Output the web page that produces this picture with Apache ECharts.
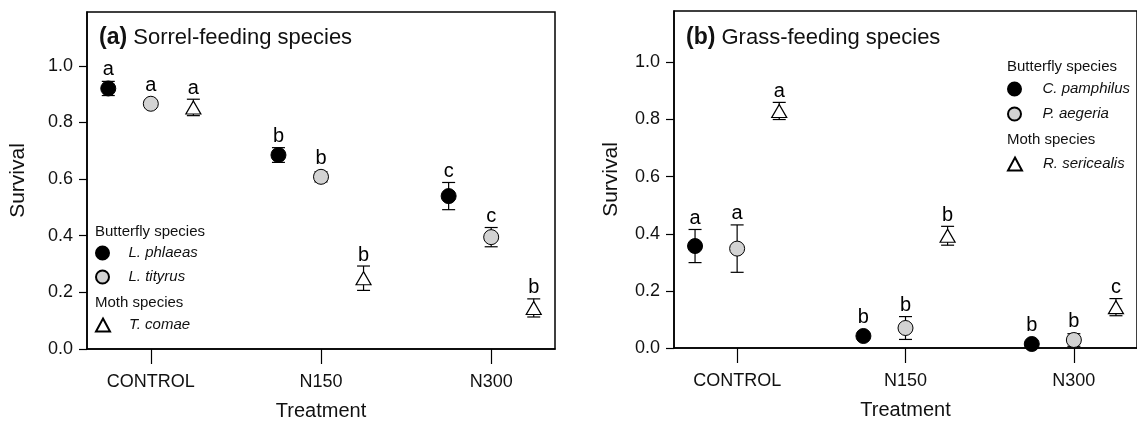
<!DOCTYPE html>
<html>
<head>
<meta charset="utf-8">
<script src="https://cdn.jsdelivr.net/npm/echarts@6/dist/echarts.min.js"></script>
<style>
  html, body { margin: 0; padding: 0; background: #fff; }
  #chart { width: 1137px; height: 428px; }
</style>
</head>
<body>
<div id="chart"></div>
<script>
// treatments on the x axis and the offset of each species inside a group
const treatments = ['CONTROL', 'N150', 'N300'];
const offsets = [-0.25, 0, 0.25];
const yTicks = [0, 0.2, 0.4, 0.6, 0.8, 1.0];

// (a) sorrel-feeding species: mean survival, error, letters
const phlaeas = [0.92, 0.685, 0.54];
const phlaeasErr = [0.025, 0.026, 0.048];
const phlaeasLet = ['a', 'b', 'c'];
const tityrus = [0.866, 0.608, 0.395];
const tityrusErr = [0.012, 0.018, 0.034];
const tityrusLet = ['a', 'b', 'c'];
const comae = [0.853, 0.25, 0.145];
const comaeErr = [0.029, 0.043, 0.032];
const comaeLet = ['a', 'b', 'b'];

// (b) grass-feeding species
const pamphilus = [0.357, 0.042, 0.014];
const pamphilusErr = [0.058, 0.01, 0.006];
const pamphilusLet = ['a', 'b', 'b'];
const aegeria = [0.348, 0.07, 0.028];
const aegeriaErr = [0.083, 0.04, 0.022];
const aegeriaLet = ['a', 'b', 'b'];
const sericealis = [0.83, 0.393, 0.143];
const sericealisErr = [0.03, 0.033, 0.03];
const sericealisLet = ['a', 'b', 'c'];

const FONT = '"Liberation Sans", Arial, Helvetica, sans-serif';

// marker styles: black dot, grey dot, open triangle
const styles = [
  { symbol: 'circle', size: 15, item: { color: '#000', borderColor: '#000', borderWidth: 1, opacity: 1 }, r: 7.5 },
  { symbol: 'circle', size: 15, item: { color: '#d3d3d3', borderColor: '#000', borderWidth: 1, opacity: 1 }, r: 7.5 },
  { symbol: 'triangle', size: [15, 13], item: { color: '#fff', borderColor: '#000', borderWidth: 1.2, opacity: 1 }, r: 6.5 }
];

function points(name, vals, gi, k) {
  const s = styles[k];
  return {
    type: 'scatter', name: name, xAxisIndex: gi, yAxisIndex: gi, z: 3,
    symbol: s.symbol, symbolSize: s.size, itemStyle: s.item,
    data: vals.map((v, i) => [i + offsets[k], v])
  };
}

// error bars with caps, and the letter above each point
function errors(vals, errs, letters, gi, k) {
  const r = styles[k].r;
  return {
    type: 'custom', xAxisIndex: gi, yAxisIndex: gi, z: 2, silent: true,
    data: vals.map((v, i) => [i + offsets[k], v, errs[i]]),
    renderItem: function (params, api) {
      const x = api.value(0), v = api.value(1), e = api.value(2);
      const c = api.coord([x, v]);
      const hi = api.coord([x, v + e]);
      const lo = api.coord([x, v - e]);
      const w = 6.5;
      const ls = { stroke: '#000', lineWidth: 1.2 };
      return {
        type: 'group',
        children: [
          { type: 'line', shape: { x1: c[0], y1: lo[1], x2: c[0], y2: hi[1] }, style: ls },
          { type: 'line', shape: { x1: c[0] - w, y1: hi[1], x2: c[0] + w, y2: hi[1] }, style: ls },
          { type: 'line', shape: { x1: c[0] - w, y1: lo[1], x2: c[0] + w, y2: lo[1] }, style: ls },
          { type: 'text', x: c[0], y: Math.min(hi[1], c[1] - r) - 1,
            style: { text: letters[params.dataIndex], fill: '#000', font: '20px ' + FONT,
                     align: 'center', verticalAlign: 'bottom' } }
        ]
      };
    }
  };
}

function xAxis(gi) {
  return {
    type: 'value', gridIndex: gi, min: -0.375, max: 2.375,
    axisLine: { show: true, onZero: false, lineStyle: { color: '#000', width: 1.5 } },
    axisTick: { show: true, customValues: [0, 1, 2], length: 15, lineStyle: { color: '#000', width: 1.2 } },
    axisLabel: { customValues: [0, 1, 2], formatter: v => treatments[Math.round(v)],
                 fontSize: 18, color: '#111', fontFamily: FONT, margin: 24 },
    splitLine: { show: false },
    name: 'Treatment', nameLocation: 'middle', nameGap: 52,
    nameTextStyle: { fontSize: 20, color: '#111', fontFamily: FONT }
  };
}

function yAxis(gi, max, gap) {
  return {
    type: 'value', gridIndex: gi, min: 0, max: max,
    axisLine: { show: true, onZero: false, lineStyle: { color: '#000', width: 1.5 } },
    axisTick: { show: true, customValues: yTicks, length: 8, lineStyle: { color: '#000', width: 1.2 } },
    axisLabel: { customValues: yTicks, formatter: v => v.toFixed(1),
                 fontSize: 18, color: '#111', fontFamily: FONT, margin: 14 },
    splitLine: { show: false },
    name: 'Survival', nameLocation: 'middle', nameGap: gap,
    nameTextStyle: { fontSize: 21, color: '#111', fontFamily: FONT }
  };
}

function legend(names, left, top, gap, pad) {
  return {
    data: names, orient: 'vertical', left: left, top: top, padding: 0,
    itemWidth: 14, itemHeight: 13, itemGap: gap, selectedMode: false,
    textStyle: { fontSize: 15, fontStyle: 'italic', color: '#111', fontFamily: FONT,
                 lineHeight: 13, padding: [0, 0, 0, pad] }
  };
}

function header(text, left, y) {
  return { type: 'text', left: left, top: y - 8,
           style: { text: text, font: '15px ' + FONT, fill: '#111' } };
}

function title(tag, text, left) {
  return {
    text: '{b|' + tag + '} ' + text, left: left, top: 21,
    textStyle: { fontSize: 22, fontWeight: 'normal', color: '#111', fontFamily: FONT,
                 rich: { b: { fontSize: 23, fontWeight: 'bold', color: '#111', fontFamily: FONT } } }
  };
}

const chart = echarts.init(document.getElementById('chart'));
chart.setOption({
  animation: false,
  backgroundColor: '#fff',
  title: [title('(a)', 'Sorrel-feeding species', 94), title('(b)', 'Grass-feeding species', 681)],
  grid: [
    { left: 87, top: 12, width: 468, height: 337, show: true, borderColor: '#000', borderWidth: 1.5 },
    { left: 674, top: 11, width: 468, height: 337, show: true, borderColor: '#000', borderWidth: 1.5 }
  ],
  xAxis: [xAxis(0), xAxis(1)],
  yAxis: [yAxis(0, 1.19, 58), yAxis(1, 1.18, 52)],
  legend: [
    legend(['L. phlaeas', 'L. tityrus'], 95, 245.5, 9, 14),
    legend(['T. comae'], 95, 317.5, 9, 14),
    legend(['C. pamphilus', 'P. aegeria'], 1007, 81.5, 10, 16),
    legend(['R. sericealis'], 1007, 156.5, 10, 16)
  ],
  graphic: [
    header('Butterfly species', 95, 232),
    header('Moth species', 95, 303),
    header('Butterfly species', 1007, 67),
    header('Moth species', 1007, 140)
  ],
  series: [
    errors(phlaeas, phlaeasErr, phlaeasLet, 0, 0),
    errors(tityrus, tityrusErr, tityrusLet, 0, 1),
    errors(comae, comaeErr, comaeLet, 0, 2),
    points('L. phlaeas', phlaeas, 0, 0),
    points('L. tityrus', tityrus, 0, 1),
    points('T. comae', comae, 0, 2),
    errors(pamphilus, pamphilusErr, pamphilusLet, 1, 0),
    errors(aegeria, aegeriaErr, aegeriaLet, 1, 1),
    errors(sericealis, sericealisErr, sericealisLet, 1, 2),
    points('C. pamphilus', pamphilus, 1, 0),
    points('P. aegeria', aegeria, 1, 1),
    points('R. sericealis', sericealis, 1, 2)
  ]
});
</script>
</body>
</html>
